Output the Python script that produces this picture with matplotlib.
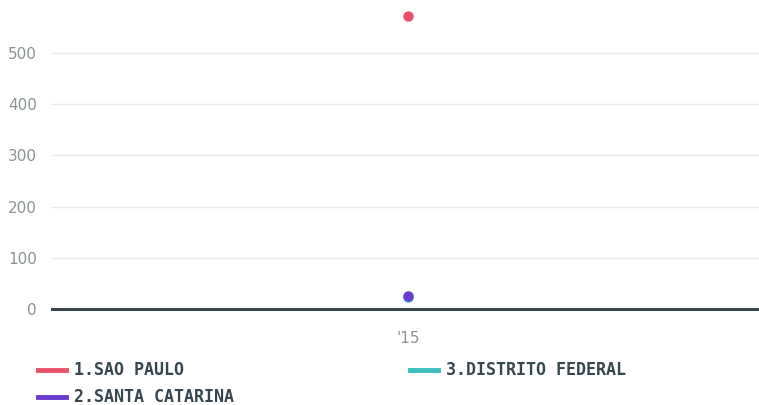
import matplotlib
matplotlib.use("Agg")
import matplotlib.pyplot as plt
from matplotlib.lines import Line2D

categories = ["'15"]
series_names = ["1.SAO PAULO", "2.SANTA CATARINA", "3.DISTRITO FEDERAL"]
sao_paulo = [572]
santa_catarina = [25]
distrito_federal = [24]
colors = ["#e9506a", "#6a3bd0", "#3dbdbd"]
yticks = [0, 100, 200, 300, 400, 500]

plt.rcParams['font.family'] = ['DejaVu Sans Mono', 'DejaVu Sans']
tick_font = ['DejaVu Sans']

fig = plt.figure(figsize=(7.59, 4.05), dpi=100)
W, H = 759, 405
ax = fig.add_axes([52 / W, (H - 309) / H, (W - 52) / W, 309 / H])

x = list(range(len(categories)))
# draw order: DF below SC
ax.plot(x, distrito_federal, 'o', color=colors[2], markersize=6.5, zorder=3)
ax.plot(x, santa_catarina, 'o', color=colors[1], markersize=6.5, zorder=4)
ax.plot(x, sao_paulo, 'o', color=colors[0], markersize=6.5, zorder=4)

ax.set_xlim(-0.5035, len(categories) - 0.5035)
ax.set_ylim(0, 603.5)
ax.set_yticks(yticks)
ax.set_xticks(x)
ax.set_xticklabels(categories)
for y in yticks[1:]:
    ax.axhline(y, color="#e6e8ea", linewidth=1, zorder=1)
ax.axhline(0, color="#37474f", linewidth=2.2, zorder=2, clip_on=False)
for s in ax.spines.values():
    s.set_visible(False)
ax.tick_params(axis='both', length=0, labelsize=11, labelcolor="#8a9296")
ax.tick_params(axis='y', pad=11)
ax.tick_params(axis='x', pad=16)
for lbl in ax.get_xticklabels() + ax.get_yticklabels():
    lbl.set_family(tick_font)

legend_pos = [(38, 370), (38, 397), (410, 370)]
for name, c, (lx, ly) in zip(series_names, colors, legend_pos):
    fig.add_artist(Line2D([lx / W, (lx + 28) / W], [1 - ly / H, 1 - ly / H],
                          color=c, linewidth=3.5, transform=fig.transFigure))
    fig.text((lx + 36) / W, 1 - ly / H, name, fontsize=12, fontweight='bold',
             color="#37474f", va='center', ha='left')

fig.savefig("out.png", dpi=100)
